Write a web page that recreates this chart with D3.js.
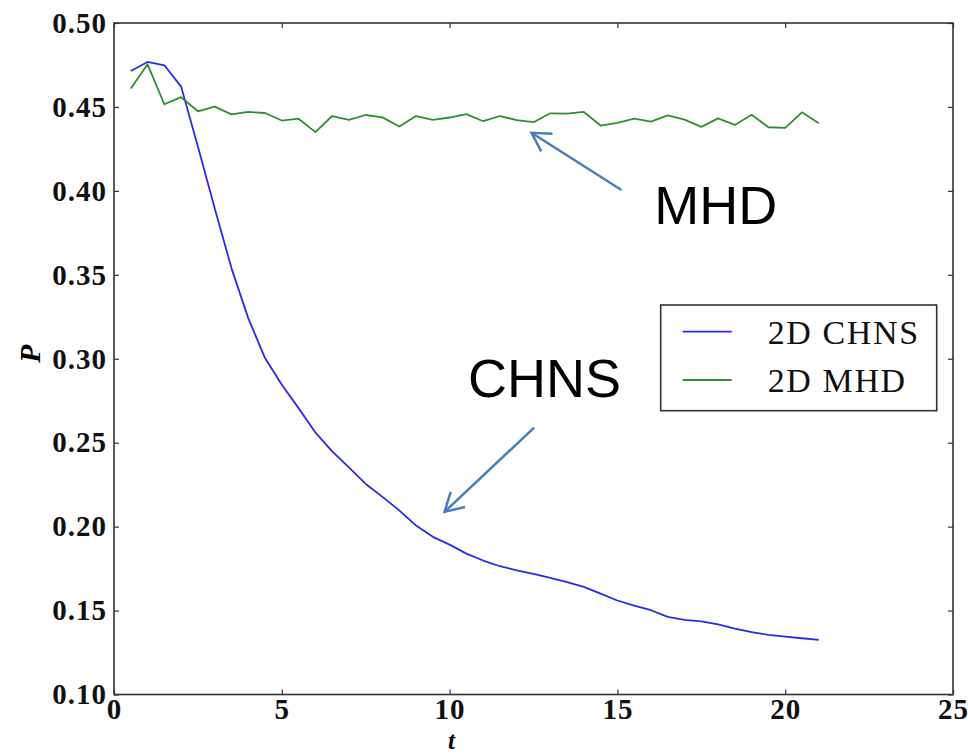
<!DOCTYPE html>
<html>
<head>
<meta charset="utf-8">
<script src="https://cdn.jsdelivr.net/npm/d3@7"></script>
<style>
  body { margin: 0; background: #fff; }
  .tick text { font-family: "Liberation Serif", serif; font-weight: bold; }
</style>
</head>
<body>
<div id="chart"></div>
<script>
var tValues = [0.5, 1, 1.5, 2, 2.5, 3, 3.5, 4, 4.5, 5, 5.5, 6, 6.5, 7, 7.5, 8, 8.5, 9, 9.5, 10,
    10.5, 11, 11.5, 12, 12.5, 13, 13.5, 14, 14.5, 15, 15.5, 16, 16.5, 17, 17.5, 18, 18.5, 19, 19.5, 20, 20.5, 21];

var chns = [0.4714, 0.4768, 0.4748, 0.4621, 0.4264, 0.3897, 0.3540, 0.3242, 0.3004, 0.2845,
    0.2706, 0.2561, 0.2448, 0.2353, 0.2254, 0.2177, 0.2097, 0.2006, 0.1939, 0.1893,
    0.1839, 0.1798, 0.1764, 0.1740, 0.1718, 0.1694, 0.1670, 0.1641, 0.1601, 0.1560,
    0.1530, 0.1502, 0.1462, 0.1445, 0.1436, 0.1418, 0.1393, 0.1371, 0.1355, 0.1345, 0.1335, 0.1326];

var mhd = [0.4610, 0.4754, 0.4516, 0.4558, 0.4474, 0.4502, 0.4456, 0.4470, 0.4464, 0.4419,
    0.4430, 0.4350, 0.4446, 0.4423, 0.4452, 0.4438, 0.4383, 0.4446, 0.4423, 0.4437,
    0.4457, 0.4415, 0.4446, 0.4421, 0.4409, 0.4462, 0.4460, 0.4470, 0.4389, 0.4405,
    0.4430, 0.4413, 0.4450, 0.4424, 0.4381, 0.4432, 0.4393, 0.4454, 0.4379, 0.4375, 0.4468, 0.4403];

var xTicks = [0, 5, 10, 15, 20, 25];
var yTicks = [0.10, 0.15, 0.20, 0.25, 0.30, 0.35, 0.40, 0.45, 0.50];
var seriesNames = ["2D CHNS", "2D MHD"];
var seriesColors = ["#2b2be6", "#2f8f2f"];

// annotations, in data units: [label, text t, text P, arrow tail t, tail P, tip t, tip P]
var notes = [
    ["MHD", 16.1, 0.3800, 15.12, 0.4005, 12.44, 0.4346],
    ["CHNS", 10.55, 0.2775, 12.52, 0.2590, 9.85, 0.2088]
];

var margin = { top: 23, right: 15, bottom: 60.5, left: 114 },
    width = 968 - margin.left - margin.right,
    height = 755 - margin.top - margin.bottom;

var svg = d3.select("#chart")
    .append("svg")
    .attr("width", 968)
    .attr("height", 755)
    .append("g")
    .attr("transform", "translate(" + margin.left + "," + margin.top + ")");

var x = d3.scaleLinear().domain([0, 25]).range([0, width]);
var y = d3.scaleLinear().domain([0.10, 0.50]).range([height, 0]);

function styleAxis(g) {
    g.select(".domain").remove();
    g.selectAll(".tick line").attr("stroke", "#333").attr("stroke-width", 1.2);
}

// bottom + top (inward ticks)
svg.append("g")
    .attr("transform", "translate(0," + height + ")")
    .call(d3.axisBottom(x).tickValues(xTicks).tickSizeInner(-5).tickSizeOuter(0).tickPadding(4).tickFormat(d3.format("d")))
    .call(styleAxis)
    .selectAll("text").style("font-size", "29px").attr("fill", "#111").attr("letter-spacing", "1px");

svg.append("g")
    .call(d3.axisTop(x).tickValues(xTicks).tickSizeInner(-5).tickSizeOuter(0).tickFormat(""))
    .call(styleAxis);

svg.append("g")
    .call(d3.axisLeft(y).tickValues(yTicks).tickSizeInner(-5).tickSizeOuter(0).tickPadding(7).tickFormat(d3.format(".2f")))
    .call(styleAxis)
    .selectAll("text").style("font-size", "29px").attr("fill", "#111").attr("letter-spacing", "1px");

svg.append("g")
    .attr("transform", "translate(" + width + ",0)")
    .call(d3.axisRight(y).tickValues(yTicks).tickSizeInner(-5).tickSizeOuter(0).tickFormat(""))
    .call(styleAxis);

svg.append("rect")
    .attr("width", width)
    .attr("height", height)
    .attr("fill", "none")
    .attr("stroke", "#333")
    .attr("stroke-width", 1.6);

var line = d3.line()
    .x(function (d) { return x(d[0]); })
    .y(function (d) { return y(d[1]); });

[chns, mhd].forEach(function (vals, i) {
    svg.append("path")
        .datum(tValues.map(function (t, j) { return [t, vals[j]]; }))
        .attr("fill", "none")
        .attr("stroke", seriesColors[i])
        .attr("stroke-width", 1.8)
        .attr("stroke-linejoin", "round")
        .attr("d", line);
});

// axis labels
svg.append("text")
    .attr("x", x(12.5) - 82)
    .attr("y", height + 54.5)
    .attr("text-anchor", "middle")
    .style("font-family", "Liberation Serif, serif")
    .style("font-style", "italic")
    .style("font-weight", "bold")
    .style("font-size", "25px")
    .text("t");

svg.append("text")
    .attr("transform", "translate(" + (-74) + "," + (y(0.30) - 5) + ") rotate(-90)")
    .attr("text-anchor", "middle")
    .style("font-family", "Liberation Serif, serif")
    .style("font-style", "italic")
    .style("font-weight", "bold")
    .style("font-size", "30px")
    .text("P");

// legend
var legend = svg.append("g").attr("transform", "translate(" + (660.7 - margin.left) + "," + (305 - margin.top) + ")");
legend.append("rect")
    .attr("width", 276)
    .attr("height", 105.7)
    .attr("fill", "#fff")
    .attr("stroke", "#333")
    .attr("stroke-width", 1.6);
seriesNames.forEach(function (name, i) {
    legend.append("line")
        .attr("x1", 22).attr("x2", 71)
        .attr("y1", 26.7 + i * 48.3).attr("y2", 26.7 + i * 48.3)
        .attr("stroke", seriesColors[i])
        .attr("stroke-width", 1.8);
    legend.append("text")
        .attr("x", 107)
        .attr("y", 38.5 + i * 48.5)
        .style("font-family", "Liberation Serif, serif")
        .style("font-size", "34px")
        .attr("letter-spacing", "1.6px")
        .attr("fill", "#111")
        .text(name);
});

// annotations with open arrowheads
var arrowColor = "#4a7ebb";
notes.forEach(function (n) {
    svg.append("text")
        .attr("x", x(n[1]))
        .attr("y", y(n[2]))
        .style("font-family", "Liberation Sans, Arial, sans-serif")
        .style("font-size", "54px")
        .attr("fill", "#000")
        .text(n[0]);

    var x1 = x(n[3]), y1 = y(n[4]), x2 = x(n[5]), y2 = y(n[6]);
    svg.append("line")
        .attr("x1", x1).attr("y1", y1).attr("x2", x2).attr("y2", y2)
        .attr("stroke", arrowColor)
        .attr("stroke-width", 2.5);
    var ang = Math.atan2(y1 - y2, x1 - x2), len = 21, spread = 0.52;
    var head = [
        [x2 + len * Math.cos(ang - spread), y2 + len * Math.sin(ang - spread)],
        [x2, y2],
        [x2 + len * Math.cos(ang + spread), y2 + len * Math.sin(ang + spread)]
    ];
    svg.append("path")
        .attr("d", d3.line()(head))
        .attr("fill", "none")
        .attr("stroke", arrowColor)
        .attr("stroke-width", 2.5)
        .attr("stroke-linejoin", "miter");
});
</script>
</body>
</html>
